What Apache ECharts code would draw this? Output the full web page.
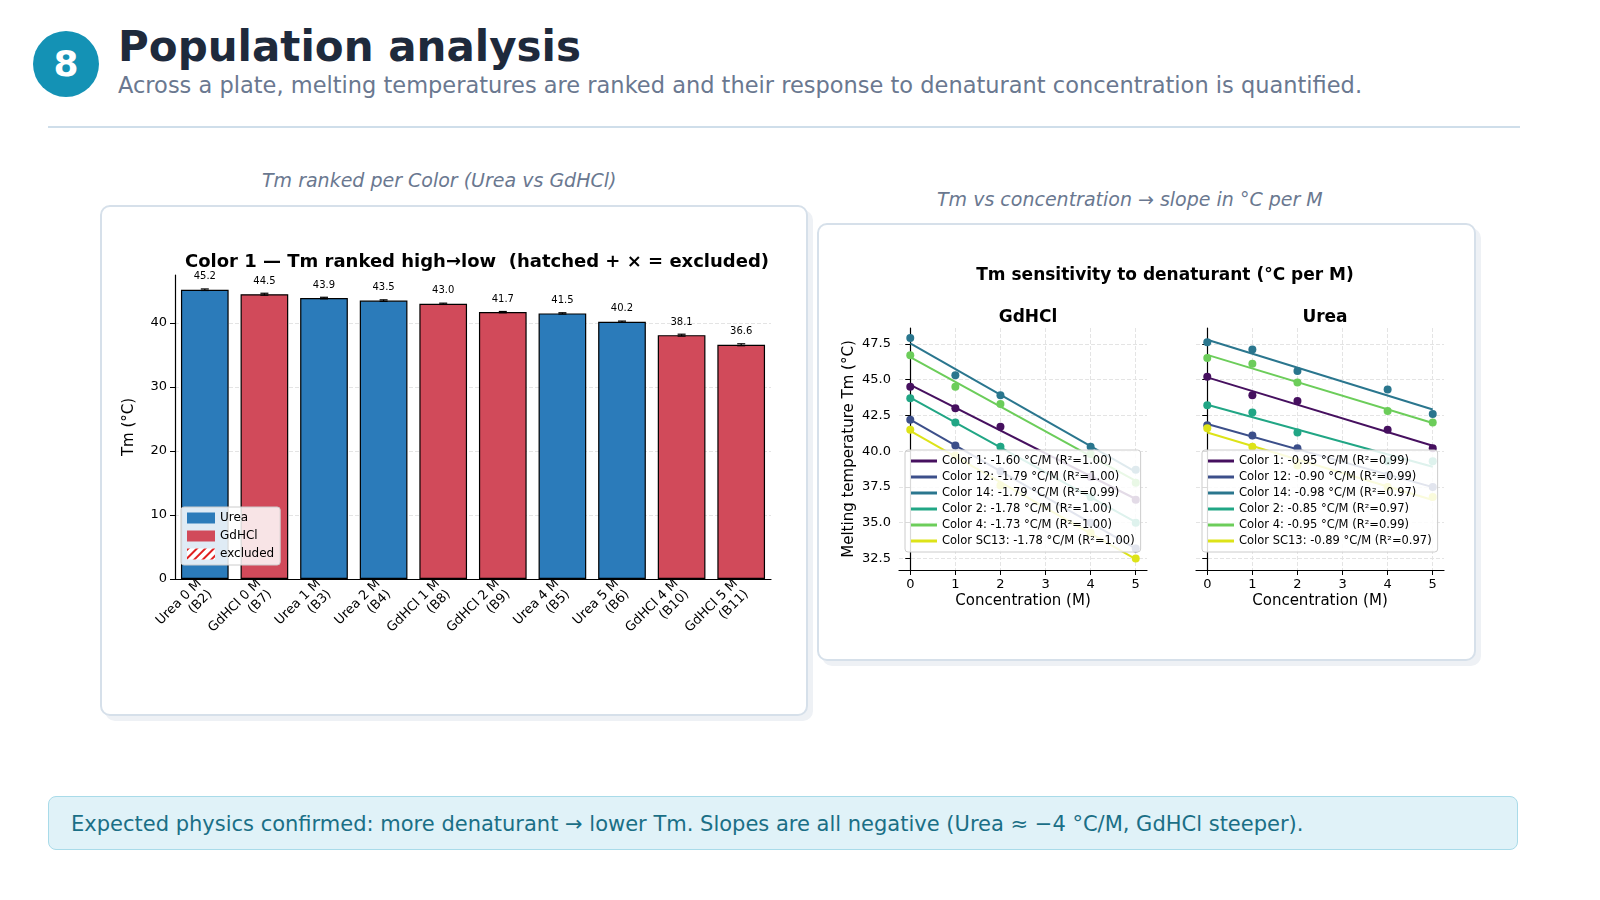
<!DOCTYPE html>
<html><head><meta charset="utf-8">
<script src="https://cdn.jsdelivr.net/npm/echarts@6/dist/echarts.min.js"></script>
<style>
body{margin:0;width:1600px;height:900px;background:#fff;font-family:"DejaVu Sans",sans-serif;position:relative;overflow:hidden}
.badge{position:absolute;left:33px;top:31px;width:66px;height:66px;border-radius:50%;background:#1492b5;color:#fff;font-weight:bold;font-size:36px;text-align:center;line-height:66px}
.h1{position:absolute;left:118px;top:22px;font-size:42px;font-weight:bold;color:#1e2a3c}
.sub{position:absolute;left:118px;top:72px;font-size:22.5px;color:#6a7890}
.rule{position:absolute;left:48px;top:126px;width:1472px;height:2px;background:#cfdeea}
.cap{position:absolute;font-size:19px;font-style:italic;color:#6a7890}
.card{position:absolute;border:2px solid #d6e0ea;border-radius:10px;background:#fff;box-shadow:5px 5px 0 #eef1f5}
.foot{position:absolute;left:48px;top:796px;width:1470px;height:54px;border:1px solid #a9dbe9;border-radius:8px;background:#e0f2f8;color:#1a6f86;font-size:21px;line-height:54px;box-sizing:border-box;padding-left:22px}
#main{position:absolute;left:0;top:0;width:1600px;height:900px}
</style></head><body>
<div class="badge">8</div>
<div class="h1">Population analysis</div>
<div class="sub">Across a plate, melting temperatures are ranked and their response to denaturant concentration is quantified.</div>
<div class="rule"></div>
<div class="cap" style="left:262px;top:169px">Tm ranked per Color (Urea vs GdHCl)</div>
<div class="cap" style="left:937px;top:188px">Tm vs concentration → slope in °C per M</div>
<div class="card" style="left:100px;top:205px;width:704px;height:507px"></div>
<div class="card" style="left:817px;top:223px;width:655px;height:434px"></div>
<div class="foot">Expected physics confirmed: more denaturant → lower Tm. Slopes are all negative (Urea ≈ −4 °C/M, GdHCl steeper).</div>
<div id="main"></div>
<script>
var chart = echarts.init(document.getElementById('main'));

// ranked bars
var barLabels = ['Urea 0 M\n(B2)','GdHCl 0 M\n(B7)','Urea 1 M\n(B3)','Urea 2 M\n(B4)','GdHCl 1 M\n(B8)','GdHCl 2 M\n(B9)','Urea 4 M\n(B5)','Urea 5 M\n(B6)','GdHCl 4 M\n(B10)','GdHCl 5 M\n(B11)'];
var barDenat = ['Urea','GdHCl','Urea','Urea','GdHCl','GdHCl','Urea','Urea','GdHCl','GdHCl'];
var barTm = [45.2,44.5,43.9,43.5,43.0,41.7,41.5,40.2,38.1,36.6];
var barErr = [0.12,0.15,0.12,0.12,0.1,0.1,0.1,0.1,0.15,0.15];

// Tm vs concentration
var conc = [0,1,2,4,5];
var colorNames = ['Color 1','Color 12','Color 14','Color 2','Color 4','Color SC13'];
var colorHex = ['#46105f','#3c4f8a','#2a768e','#21a685','#6ccd5a','#dde318'];
var gdhclTm = [
  [44.5,43.0,41.7,38.2,36.6],
  [42.2,40.4,38.6,35.0,33.2],
  [47.9,45.3,43.9,40.3,38.7],
  [43.7,42.0,40.3,36.8,35.0],
  [46.7,44.5,43.3,39.8,37.8],
  [41.5,39.7,37.6,34.3,32.5]
];
var ureaTm = [
  [45.2,43.9,43.5,41.5,40.2],
  [41.8,41.1,40.2,38.3,37.5],
  [47.6,47.1,45.6,44.3,42.6],
  [43.2,42.7,41.3,39.3,39.3],
  [46.5,46.1,44.8,42.8,42.0],
  [41.6,40.3,39.0,37.5,36.8]
];
var gdhclSlope = ['-1.60','-1.79','-1.79','-1.78','-1.73','-1.78'];
var gdhclR2 = ['1.00','1.00','0.99','1.00','1.00','1.00'];
var ureaSlope = ['-0.95','-0.90','-0.98','-0.85','-0.95','-0.89'];
var ureaR2 = ['0.99','0.99','0.97','0.97','0.99','0.97'];

function fit(ys){
  var n=conc.length,mx=0,my=0;
  for(var i=0;i<n;i++){mx+=conc[i]/n;my+=ys[i]/n;}
  var sxy=0,sxx=0;
  for(i=0;i<n;i++){sxy+=(conc[i]-mx)*(ys[i]-my);sxx+=(conc[i]-mx)*(conc[i]-mx);}
  var b=sxy/sxx,a=my-b*mx;
  return [[0,a],[5,a+b*5]];
}

var gridLine = {show:true,lineStyle:{type:'dashed',color:'#e4e4e4'}};
var axLine = {show:true,lineStyle:{color:'#000',width:1.2}};
var lbl = {color:'#000',fontSize:13,fontFamily:'DejaVu Sans'};

var series = [];
['Urea','GdHCl'].forEach(function(d){
  series.push({
    name:d,type:'bar',stack:'b',barWidth:'80%',xAxisIndex:0,yAxisIndex:0,
    itemStyle:{color:d==='Urea'?'#2b7bba':'#d14a5a',borderColor:'#000',borderWidth:1.2},
    label:{show:true,position:'top',fontSize:10,color:'#000',distance:8,formatter:function(p){return p.value.toFixed(1);}},
    data:barTm.map(function(v,i){return barDenat[i]===d?v:'-';})
  });
});
series.push({name:'excluded',type:'bar',stack:'b',xAxisIndex:0,yAxisIndex:0,data:[],
  itemStyle:{color:'#fff',borderColor:'#e02020',borderWidth:1,decal:{symbol:'rect',color:'#e02020',dashArrayX:[1,0],dashArrayY:[2,4],rotation:-Math.PI/4}}});
series.push({type:'custom',xAxisIndex:0,yAxisIndex:0,silent:true,z:5,
  data:barTm.map(function(v,i){return [i,v,barErr[i]];}),
  renderItem:function(params,api){
    var lo=api.coord([api.value(0),api.value(1)-api.value(2)]);
    var hi=api.coord([api.value(0),api.value(1)+api.value(2)]);
    var s={stroke:'#000',lineWidth:1.2};
    return {type:'group',children:[
      {type:'line',shape:{x1:lo[0],y1:lo[1],x2:hi[0],y2:hi[1]},style:s},
      {type:'line',shape:{x1:lo[0]-4,y1:lo[1],x2:lo[0]+4,y2:lo[1]},style:s},
      {type:'line',shape:{x1:hi[0]-4,y1:hi[1],x2:hi[0]+4,y2:hi[1]},style:s}]};
  }});

var legA=[],legB=[];
[[gdhclTm,gdhclSlope,gdhclR2,1,legA],[ureaTm,ureaSlope,ureaR2,2,legB]].forEach(function(cfg){
  cfg[0].forEach(function(ys,k){
    var nm=colorNames[k]+': '+cfg[1][k]+' °C/M (R²='+cfg[2][k]+')';
    cfg[4].push(nm);
    series.push({name:nm,type:'line',xAxisIndex:cfg[3],yAxisIndex:cfg[3],data:fit(ys),showSymbol:false,
      lineStyle:{color:colorHex[k],width:2},itemStyle:{color:colorHex[k]},z:3});
    series.push({name:'pts'+cfg[3]+k,type:'scatter',xAxisIndex:cfg[3],yAxisIndex:cfg[3],symbolSize:8,
      data:conc.map(function(c,i){return [c,ys[i]];}),itemStyle:{color:colorHex[k],opacity:1},z:4});
  });
});

var yTicks=[32.5,35,37.5,40,42.5,45,47.5];
function sAxisX(i,left){return {gridIndex:i,type:'value',min:-0.25,max:5.25,
  axisLine:axLine,axisTick:{show:true,customValues:[0,1,2,3,4,5],lineStyle:{color:'#000'}},
  axisLabel:Object.assign({customValues:[0,1,2,3,4,5]},lbl),splitLine:gridLine,
  name:'Concentration (M)',nameLocation:'middle',nameGap:24,nameTextStyle:{fontSize:15,color:'#000'}};}
function sAxisY(i,show){return {gridIndex:i,type:'value',min:31.7,max:48.6,
  axisLine:axLine,axisTick:{show:true,customValues:yTicks,lineStyle:{color:'#000'}},
  axisLabel:Object.assign({show:show,customValues:yTicks,formatter:function(v){return v.toFixed(1);}},lbl),
  splitLine:gridLine,
  name:show?'Melting temperature Tm (°C)':'',nameLocation:'middle',nameGap:42,nameTextStyle:{fontSize:15,color:'#000'}};}

var legBox={orient:'vertical',z:20,backgroundColor:'rgba(255,255,255,0.85)',borderColor:'#ccc',borderWidth:1,borderRadius:3,
  padding:[5,6],itemGap:4,itemWidth:26,itemHeight:3,icon:'rect',textStyle:{fontSize:11.5,color:'#000'}};

chart.setOption({
  animation:false,
  textStyle:{fontFamily:'DejaVu Sans'},
  title:[
    {text:'Color 1 — Tm ranked high→low  (hatched + × = excluded)',left:472,top:248,textAlign:'center',textStyle:{fontSize:18,fontWeight:'bold',color:'#000'}},
    {text:'Tm sensitivity to denaturant (°C per M)',left:1160,top:262,textAlign:'center',textStyle:{fontSize:17,fontWeight:'bold',color:'#000'}},
    {text:'GdHCl',left:1023,top:304,textAlign:'center',textStyle:{fontSize:17,fontWeight:'bold',color:'#000'}},
    {text:'Urea',left:1320,top:304,textAlign:'center',textStyle:{fontSize:17,fontWeight:'bold',color:'#000'}}
  ],
  grid:[
    {left:175,top:275,width:596,height:304},
    {left:899,top:328,width:248,height:242},
    {left:1196,top:328,width:248,height:242}
  ],
  xAxis:[
    {gridIndex:0,type:'category',data:barLabels,axisLine:axLine,axisTick:{alignWithLabel:true,lineStyle:{color:'#000'}},
      axisLabel:Object.assign({rotate:45,interval:0,lineHeight:15,margin:8},lbl)},
    sAxisX(1),sAxisX(2)
  ],
  yAxis:[
    {gridIndex:0,type:'value',min:0,max:47.5,interval:10,axisLine:axLine,
      axisTick:{show:true,customValues:[0,10,20,30,40],lineStyle:{color:'#000'}},
      axisLabel:Object.assign({customValues:[0,10,20,30,40]},lbl),splitLine:gridLine,
      name:'Tm (°C)',nameLocation:'middle',nameGap:38,nameTextStyle:{fontSize:15,color:'#000'}},
    sAxisY(1,true),sAxisY(2,false)
  ],
  legend:[
    Object.assign({},legBox,{left:181,top:507,data:['Urea','GdHCl','excluded'],itemWidth:28,itemHeight:11,icon:'rect',itemGap:6,
      itemStyle:{borderWidth:0},textStyle:{fontSize:12,color:'#000'}}),
    Object.assign({},legBox,{left:905,top:450,data:legA}),
    Object.assign({},legBox,{left:1202,top:450,data:legB})
  ],
  series:series
});
</script>
</body></html>
